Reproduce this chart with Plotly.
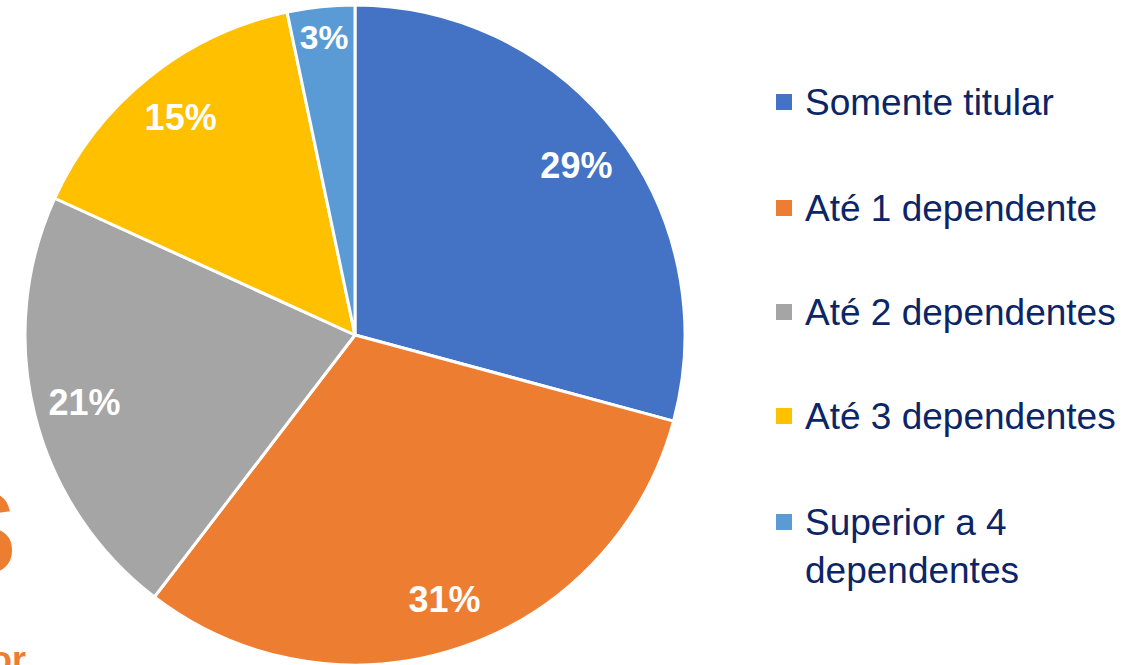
import plotly.graph_objects as go

categories = ["Somente titular", "Até 1 dependente", "Até 2 dependentes",
              "Até 3 dependentes", "Superior a 4<br>dependentes"]
values = [29.2, 31.2, 21.4, 14.9, 3.3]
colors = ["#4472C4", "#ED7D31", "#A5A5A5", "#FFC000", "#5B9BD5"]

W, H = 1145, 665
cx, cy, R = 355, 335, 330
dom = dict(x=[(cx - R) / W, (cx + R) / W], y=[0, 1 - (cy - R) / H])

fig = go.Figure()
# filled slices
fig.add_trace(go.Pie(
    labels=categories, values=values, sort=False, direction="clockwise",
    rotation=0,
    marker=dict(colors=colors, line=dict(color="white", width=3)),
    textinfo="none", domain=dom,
    showlegend=False, hoverinfo="label+percent",
))
# transparent ring carrying the percentage labels further out
fig.add_trace(go.Pie(
    labels=categories, values=values, sort=False, direction="clockwise",
    rotation=0, hole=0.69,
    marker=dict(colors=["rgba(0,0,0,0)"] * len(values), line=dict(width=0)),
    texttemplate="%{percent:.0%}", textposition="inside",
    insidetextorientation="horizontal",
    textfont=dict(family="Liberation Sans, Arial", size=36, color="white", weight="bold"),
    domain=dom, showlegend=False, hoverinfo="skip",
))

# custom legend
legend_y = [102, 208, 312, 416, 522]
for cat, col, ly in zip(categories, colors, legend_y):
    fig.add_shape(type="rect", xref="paper", yref="paper",
                  x0=776 / W, x1=792 / W, y0=1 - (ly + 8) / H, y1=1 - (ly - 8) / H,
                  fillcolor=col, line=dict(width=0))
    fig.add_annotation(text=cat, xref="paper", yref="paper", x=803 / W,
                       y=1 - (ly - 22) / H, xanchor="left", yanchor="top",
                       showarrow=False, align="left",
                       font=dict(family="Liberation Sans, Arial", size=37, color="#0B2566"))

# cropped background text fragments
fig.add_annotation(text="S", xref="paper", yref="paper", x=19 / W, y=1 - 533 / H,
                   xanchor="right", yanchor="middle", showarrow=False,
                   font=dict(family="Liberation Sans, Arial", size=118, color="#ED7D31", weight="bold"))
fig.add_annotation(text="or", xref="paper", yref="paper", x=28 / W, y=1 - 659 / H,
                   xanchor="right", yanchor="middle", showarrow=False,
                   font=dict(family="Liberation Sans, Arial", size=36, color="#ED7D31", weight="bold"))

fig.update_layout(width=W, height=H, margin=dict(l=0, r=0, t=0, b=0),
                  paper_bgcolor="white", plot_bgcolor="white")
fig.write_html("out.html", config={"displayModeBar": False},
               post_script="document.body.style.margin='0';")
